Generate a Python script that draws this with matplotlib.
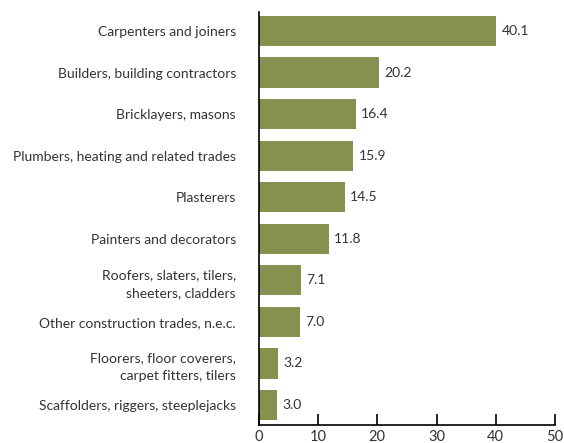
import matplotlib
matplotlib.use("Agg")
import matplotlib.pyplot as plt

plt.rcParams['font.family'] = ['Lato', 'DejaVu Sans']

categories = [
    "Carpenters and joiners",
    "Builders, building contractors",
    "Bricklayers, masons",
    "Plumbers, heating and related trades",
    "Plasterers",
    "Painters and decorators",
    "Roofers, slaters, tilers,\nsheeters, cladders",
    "Other construction trades, n.e.c.",
    "Floorers, floor coverers,\ncarpet fitters, tilers",
    "Scaffolders, riggers, steeplejacks",
]
values = [40.1, 20.2, 16.4, 15.9, 14.5, 11.8, 7.1, 7.0, 3.2, 3.0]
xticks = [0, 10, 20, 30, 40, 50]

fig = plt.figure(figsize=(5.64, 4.43), dpi=100)
ax = fig.add_axes([0.459, 0.041, 0.525, 0.932])

ypos = list(range(len(categories)))
ax.barh(ypos, values, height=0.73, color="#84914f")
for y, v in zip(ypos, values):
    ax.text(v + 0.9, y, f"{v:.1f}", va="center", ha="left", fontsize=10, color="#333333")

ax.set_ylim(9.48, -0.46)
ax.set_xlim(0, 50)
ax.set_yticks(ypos)
ax.set_yticklabels(categories, fontsize=10, color="#333333", linespacing=1.55)
ax.tick_params(axis="y", length=0, pad=16.5)
ax.set_xticks(xticks)
ax.tick_params(axis="x", direction="in", length=8, width=1.2, labelsize=10.5,
               labelcolor="#333333", pad=4)
ax.spines["top"].set_visible(False)
ax.spines["right"].set_visible(False)
ax.spines["left"].set_linewidth(1.2)
ax.spines["bottom"].set_linewidth(1.2)

fig.savefig("out.png", dpi=100)
